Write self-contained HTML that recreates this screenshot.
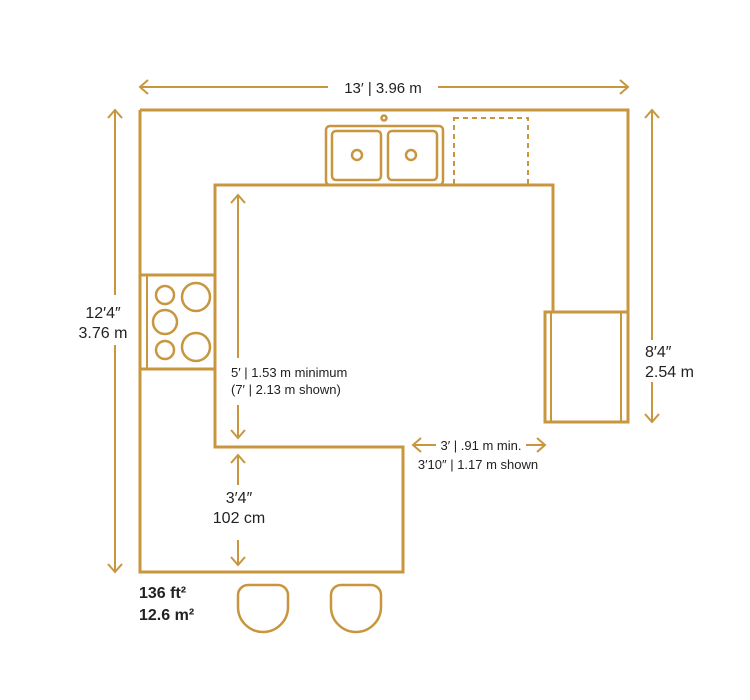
<!DOCTYPE html>
<html><head><style>body{margin:0;background:#fff}svg{display:block}text{font-family:"Liberation Sans",sans-serif;fill:#222}</style></head><body>
<svg width="750" height="700" viewBox="0 0 750 700">
<g fill="none" stroke="#C8963E" stroke-width="3">
<path d="M140 110 H628 V312 M553 312 V185 H215 V447 H403 V572 H140 V110"/>
<rect x="545" y="312" width="83" height="110"/>
<path d="M551 312 V422 M621 312 V422" stroke-width="2"/>
<rect x="140" y="275" width="75" height="94"/>
<path d="M147 275 V369" stroke-width="2"/>
<g stroke-width="2.5">
<circle cx="165" cy="295" r="9"/><circle cx="196" cy="297" r="14"/>
<circle cx="165" cy="322" r="12"/><circle cx="165" cy="350" r="9"/><circle cx="196" cy="347" r="14"/>
<rect x="326" y="126" width="117" height="59" rx="4"/>
<rect x="332" y="131" width="49" height="49" rx="4"/><rect x="388" y="131" width="49" height="49" rx="4"/>
<circle cx="357" cy="155" r="5"/><circle cx="411" cy="155" r="5"/><circle cx="384" cy="118" r="2.5"/>
<path d="M248 585 H278 a10 10 0 0 1 10 10 V607 a25 25 0 0 1 -50 0 V595 a10 10 0 0 1 10 -10 Z"/>
<path d="M341 585 H371 a10 10 0 0 1 10 10 V607 a25 25 0 0 1 -50 0 V595 a10 10 0 0 1 10 -10 Z"/>
</g>
<rect x="454" y="118" width="74" height="67" stroke-width="2" stroke-dasharray="5 4"/>
<g stroke-width="2">
<path d="M140 87 H328 M438 87 H628 M148 80 L140 87 L148 94 M620 80 L628 87 L620 94"/>
<path d="M115 110 V295 M115 345 V572 M108 118 L115 110 L122 118 M108 564 L115 572 L122 564"/>
<path d="M652 110 V340 M652 382 V422 M645 118 L652 110 L659 118 M645 414 L652 422 L659 414"/>
<path d="M238 195 V358 M238 405 V438 M231 203 L238 195 L245 203 M231 430 L238 438 L245 430"/>
<path d="M238 455 V485 M238 540 V565 M231 463 L238 455 L245 463 M231 557 L238 565 L245 557"/>
<path d="M413 445 H436 M526 445 H545 M421 438 L413 445 L421 452 M537 438 L545 445 L537 452"/>
</g>
</g>
<text x="383" y="93" font-size="15" text-anchor="middle">13′ | 3.96 m</text>
<text x="103" y="318" font-size="16" text-anchor="middle">12′4″</text>
<text x="103" y="338" font-size="16" text-anchor="middle">3.76 m</text>
<text x="645" y="357" font-size="16">8′4″</text>
<text x="645" y="377" font-size="16">2.54 m</text>
<text x="231" y="377" font-size="13">5′ | 1.53 m minimum</text>
<text x="231" y="394" font-size="13">(7′ | 2.13 m shown)</text>
<text x="481" y="450" font-size="13" text-anchor="middle">3′ | .91 m min.</text>
<text x="478" y="469" font-size="13" text-anchor="middle">3′10″ | 1.17 m shown</text>
<text x="239" y="503" font-size="16" text-anchor="middle">3′4″</text>
<text x="239" y="523" font-size="16" text-anchor="middle">102 cm</text>
<text x="139" y="598" font-size="16" font-weight="bold">136 ft²</text>
<text x="139" y="620" font-size="16" font-weight="bold">12.6 m²</text>
</svg>
</body></html>
